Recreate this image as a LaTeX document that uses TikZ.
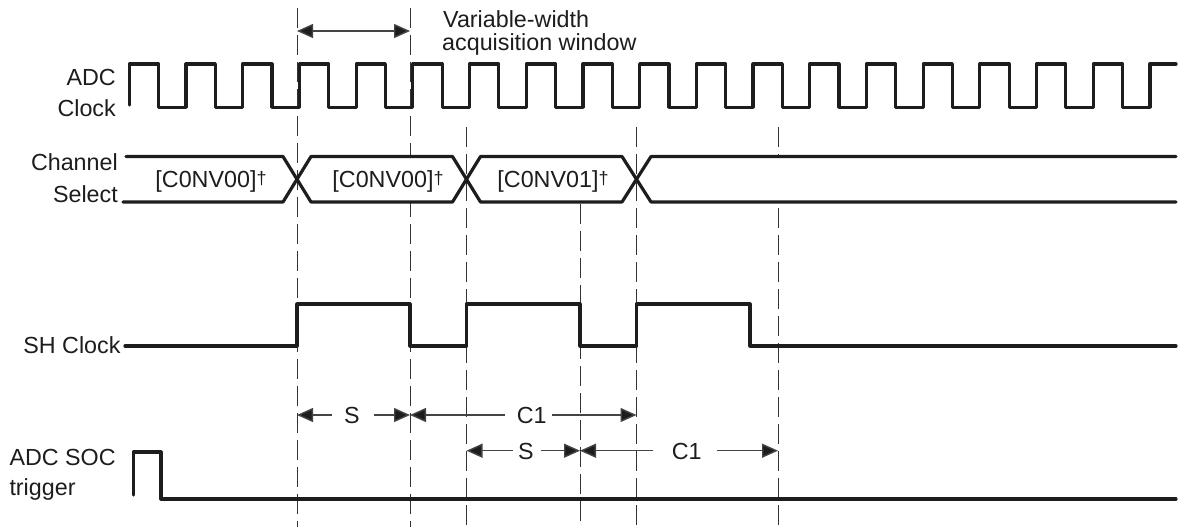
\documentclass[tikz,border=0pt]{standalone}
\usepackage{fontspec}
\setmainfont{Liberation Sans}
\usetikzlibrary{arrows.meta}
\definecolor{sigcol}{HTML}{1E1C1D}
\definecolor{guidecol}{HTML}{333333}
\definecolor{dimcol}{HTML}{444444}
\newcommand{\mydagger}{\raisebox{3.5pt}{\fontsize{18}{18}\selectfont †}}
\begin{document}
\begin{tikzpicture}[x=1pt,y=-1pt,
  sig/.style={draw=sigcol, line width=3.2pt, line cap=round, line join=round},
  guide/.style={draw=guidecol, line width=1pt, dash pattern=on 20pt off 7pt},
  dimarrow/.style={draw=dimcol, line width=1.4pt, -{Triangle[length=16pt,width=14pt,fill=sigcol]}},
  lbl/.style={font=\fontsize{23.3}{27}\selectfont, inner sep=0pt, text=sigcol},
]
\path[use as bounding box] (0,0) rectangle (1181,531);

% guide lines
\draw[guide] (297,8) -- (297,527);
\draw[guide] (410,8) -- (410,527);
\draw[guide] (466.5,127) -- (466.5,527);
\draw[guide] (580,204) -- (580,527);
\draw[guide] (636.5,127) -- (636.5,527);
\draw[guide] (778,127) -- (778,527);

% top dimension arrow
\coordinate (wL) at (297,31);
\coordinate (wR) at (410,31);
\draw[dimarrow, {Triangle[length=16pt,width=14pt,fill=sigcol]}-{Triangle[length=16pt,width=14pt,fill=sigcol]}] (wL) -- (wR);
\node[lbl, anchor=base west] (var) at (443,27.3) {Variable-width};
\node[lbl, anchor=base west] (acq) at (442,50.5) {acquisition window};

% ADC clock
\node[lbl, anchor=base east] (adc) at (116,85) {ADC};
\node[lbl, anchor=base east] (clk) at (116,116.7) {Clock};
\draw[sig] (129.3,105) -- (129.3,64)
  \foreach \k in {0,...,17} {
    -- ({129.3+\k*56.7+29.3},64) -- ({129.3+\k*56.7+29.3},107.3)
    -- ({129.3+(\k+1)*56.7},107.3) -- ({129.3+(\k+1)*56.7},64) }
  -- (1176,64);

% Channel select
\node[lbl, anchor=base east] (chan) at (118,170.7) {Channel};
\node[lbl, anchor=base east] (sel) at (118,202.7) {Select};
\fill[white] (123,156.5) -- (283,156.5) -- (297,179.3) -- (283,202) -- (123,202) -- cycle;
\fill[white] (297,179.3) -- (311,156.5) -- (452.5,156.5) -- (466.5,179.3) -- (452.5,202) -- (311,202) -- cycle;
\fill[white] (466.5,179.3) -- (480.5,156.5) -- (622,156.5) -- (636.5,179.3) -- (622,202) -- (480.5,202) -- cycle;
\fill[white] (636.5,179.3) -- (651,156.5) -- (1176,156.5) -- (1176,202) -- (651,202) -- cycle;
\draw[sig] (126,156.5) -- (283,156.5) -- (311,202) -- (452.5,202) -- (480.5,156.5) -- (622,156.5) -- (651,202) -- (1176,202);
\draw[sig] (123,202) -- (283,202) -- (311,156.5) -- (452.5,156.5) -- (480.5,202) -- (622,202) -- (651,156.5) -- (1176,156.5);
\node[lbl, anchor=base] (c1) at (211,187.6) {[C0NV00]\mydagger};
\node[lbl, anchor=base] (c2) at (388,187.6) {[C0NV00]\mydagger};
\node[lbl, anchor=base] (c3) at (553,187.6) {[C0NV01]\mydagger};

% SH clock
\node[lbl, anchor=base east] (sh) at (120.7,353) {SH Clock};
\draw[sig] (125,346) -- (297,346) -- (297,304) -- (410,304) -- (410,346) -- (466.5,346) -- (466.5,304)
  -- (580,304) -- (580,346) -- (636.5,346) -- (636.5,304) -- (750,304) -- (750,346) -- (1176,346);

% timing dimension arrows
\node[lbl, anchor=base] (s1) at (352,423.3) {S};
\node[lbl, anchor=base] (k1) at (531.7,423.3) {C1};
\node[lbl, anchor=base] (s2) at (526,459) {S};
\node[lbl, anchor=base] (k2) at (686.7,459) {C1};
\coordinate (s1a) at (297,415);   \coordinate (s1l) at (331.7,415);
\coordinate (s1r) at (374,415);   \coordinate (s1b) at (410,415);
\coordinate (k1a) at (410,415);   \coordinate (k1l) at (505,415);
\coordinate (k1r) at (551.7,415); \coordinate (k1b) at (636.5,415);
\coordinate (s2a) at (466.5,450.7); \coordinate (s2l) at (512.7,450.7);
\coordinate (s2r) at (540.7,450.7); \coordinate (s2b) at (580,450.7);
\coordinate (k2a) at (580,450.7);   \coordinate (k2l) at (653,450.7);
\coordinate (k2r) at (716.7,450.7); \coordinate (k2b) at (778,450.7);
\draw[dimarrow] (s1l) -- (s1a);
\draw[dimarrow] (s1r) -- (s1b);
\draw[dimarrow] (k1l) -- (k1a);
\draw[dimarrow] (k1r) -- (k1b);
\draw[dimarrow] (s2l) -- (s2a);
\draw[dimarrow] (s2r) -- (s2b);
\draw[dimarrow] (k2l) -- (k2a);
\draw[dimarrow] (k2r) -- (k2b);

% ADC SOC trigger
\node[lbl, anchor=base west] (soc) at (9.3,465) {ADC SOC};
\node[lbl, anchor=base west] (trg) at (9.3,495) {trigger};
\draw[sig] (133.3,495) -- (133.3,452) -- (161,452) -- (161,499) -- (1176,499);
\end{tikzpicture}
\end{document}
